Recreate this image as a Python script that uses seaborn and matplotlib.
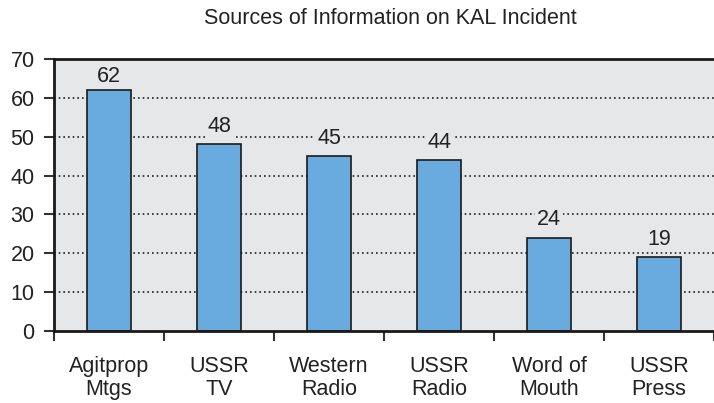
import numpy as np
import pandas as pd
import seaborn as sns
import matplotlib.pyplot as plt

categories = ['Agitprop\nMtgs', 'USSR\nTV', 'Western\nRadio', 'USSR\nRadio', 'Word of\nMouth', 'USSR\nPress']
values = [62, 48, 45, 44, 24, 19]
yticks = [0, 10, 20, 30, 40, 50, 60, 70]

df = pd.DataFrame({'source': categories, 'count': values})

sns.set_style('white')
plt.rcParams['font.family'] = ['Liberation Sans', 'DejaVu Sans']

bg = '#e6e7e9'
fig = plt.figure(figsize=(7.14, 4.03), dpi=100)
ax = fig.add_axes([54 / 714, 1 - 331 / 403, 1 - 54 / 714, (331 - 59) / 403])
ax.set_facecolor(bg)

sns.barplot(data=df, x='source', y='count', color='#6aabdf', width=0.4,
            edgecolor='#1a1a1a', linewidth=1.2, saturation=1, ax=ax)

# dotted grid lines
ax.set_axisbelow(True)
for y in yticks[1:-1]:
    ax.axhline(y, color='#222222', linestyle=(0, (1, 1.8)), linewidth=1.2, zorder=0.5)

# value labels with background boxes (kept below the top frame)
for i, v in enumerate(values):
    ax.text(i, min(v + 1.9, 62.8), str(v), ha='center', va='bottom', fontsize=15.5,
            color='#222222', bbox=dict(facecolor=bg, edgecolor='none', pad=1.2), zorder=2.2)

ax.set_xlim(-0.5, 5.5)
ax.set_ylim(0, 70)
ax.set_yticks(yticks)
ax.set_yticklabels([str(t) for t in yticks], fontsize=15.5, color='#222222')
ax.tick_params(axis='y', length=7, width=1.5, pad=7, color='#333333', left=True)

ax.set_xticks(range(len(categories)))
ax.set_xticklabels(categories, fontsize=15.5, color='#222222', linespacing=1.1)
ax.tick_params(axis='x', which='major', length=0, pad=18)
ax.set_xticks(np.arange(-0.5, len(categories), 1.0), minor=True)
ax.tick_params(axis='x', which='minor', length=7.5, width=1.5, color='#333333', bottom=True)

ax.set_xlabel('')
ax.set_ylabel('')
for side in ['left', 'top', 'bottom']:
    ax.spines[side].set_color('#1a1a1a')
    ax.spines[side].set_linewidth(2)
ax.spines['right'].set_visible(False)

fig.text(390 / 714, 1 - 18 / 403, 'Sources of Information on KAL Incident',
         ha='center', va='center', fontsize=15.5, color='#222222')

fig.savefig('out.png', dpi=100, facecolor='white')
